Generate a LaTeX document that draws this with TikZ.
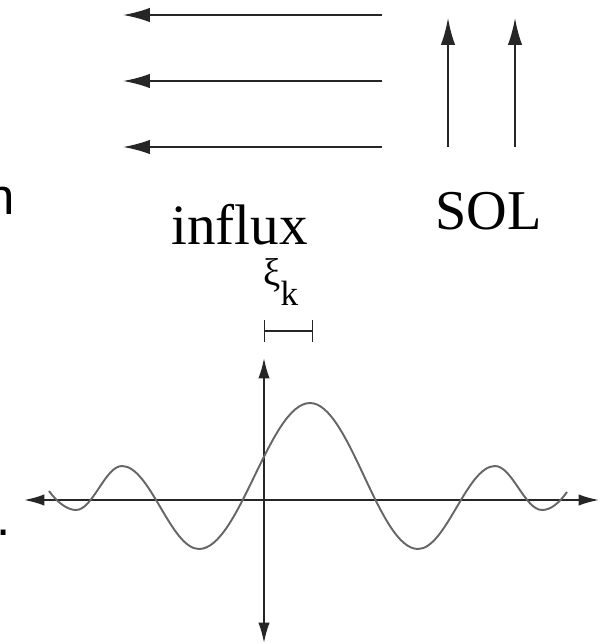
\documentclass[tikz,border=0pt]{standalone}
\usepackage{fontspec}
\setmainfont{Liberation Serif}
\newfontfamily\slidefont{Liberation Sans}
\usetikzlibrary{arrows.meta}

\begin{document}
\begin{tikzpicture}[
  x=0.02cm, y=-0.02cm,
  flow/.style={draw=black!85, line width=1.1pt, -{Latex[length=0.54cm, width=0.29cm]}},
  axis/.style={draw=black!85, line width=1.1pt, {Latex[length=0.41cm, width=0.23cm]}-{Latex[length=0.41cm, width=0.23cm]}},
  wave/.style={draw=black!60, line width=1.1pt},
  bigtext/.style={inner sep=0pt, font=\fontsize{32}{32}\selectfont}
]
\useasboundingbox (0,0) rectangle (603,644);

% influx arrows (right to left)
\coordinate (in1s) at (382,15);  \coordinate (in1e) at (123,15);
\coordinate (in2s) at (382,81);  \coordinate (in2e) at (123,81);
\coordinate (in3s) at (382,147); \coordinate (in3e) at (123,147);
\draw[flow] (in1s) -- (in1e);
\draw[flow] (in2s) -- (in2e);
\draw[flow] (in3s) -- (in3e);

% SOL arrows (upwards)
\coordinate (sol1s) at (448,147); \coordinate (sol1e) at (448,18);
\coordinate (sol2s) at (515,147); \coordinate (sol2e) at (515,18);
\draw[flow] (sol1s) -- (sol1e);
\draw[flow] (sol2s) -- (sol2e);

\node[bigtext, anchor=base, font=\fontsize{32.5}{32.5}\selectfont] (influx) at (239.5,245) {influx};
\node[bigtext, anchor=base] (sol) at (488.5,230) {SOL};

% cut-off text at the left border
\node[inner sep=0pt, anchor=base east, font=\slidefont\fontsize{29}{29}\selectfont] (cutn) at (15,215) {n};
\node[inner sep=0pt, anchor=base east, font=\slidefont\fontsize{29}{29}\selectfont] (cutdot) at (11,535) {.};

% width xi_k
\node[inner sep=0pt, anchor=base west] (xik) at (263,286)
  {\fontsize{22}{22}\selectfont ξ\raisebox{-0.4cm}{\fontsize{20}{20}\selectfont k}};
\coordinate (brl) at (264,331); \coordinate (brr) at (313,331);
\draw[line width=0.8pt, black!85, {Bar[width=0.44cm]}-{Bar[width=0.44cm]}] (brl) -- (brr);

% axes
\coordinate (xl) at (24,500);  \coordinate (xr) at (599,500);
\coordinate (yt) at (264,358); \coordinate (yb) at (264,643);
\draw[axis] (xl) -- (xr);
\draw[axis] (yt) -- (yb);

% profile
\draw[wave] (49,491) .. controls +(8,11) and +(-9,0) .. (76,510)
  .. controls +(16.7,0) and +(-16.7,0) .. (122,466)
  .. controls +(28,0) and +(-28,0) .. (199,549)
  .. controls +(40.3,0) and +(-40.3,0) .. (310,403)
  .. controls +(39.3,0) and +(-39.3,0) .. (418,549)
  .. controls +(28,0) and +(-28,0) .. (495,466)
  .. controls +(17,0) and +(-17,0) .. (542,510)
  .. controls +(9,0) and +(-8,11) .. (567,492);
\end{tikzpicture}
\end{document}
